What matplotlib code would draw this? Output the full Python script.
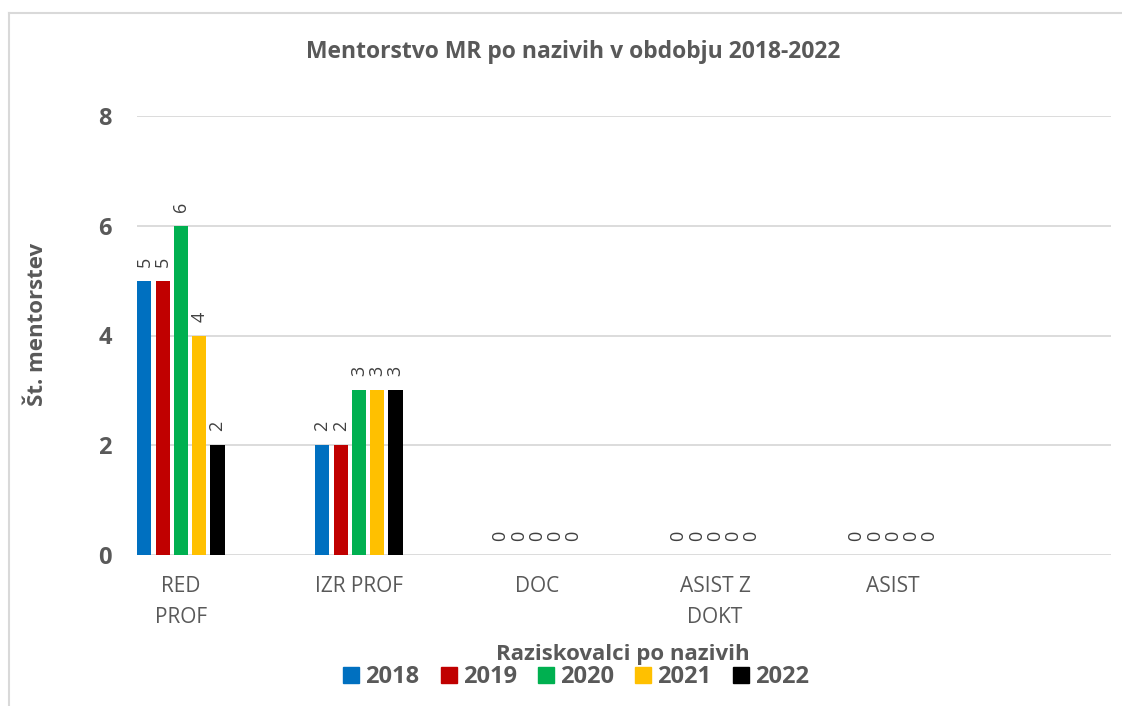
import matplotlib
matplotlib.use("Agg")
import matplotlib.pyplot as plt
import numpy as np
from matplotlib.patches import Rectangle
from matplotlib.lines import Line2D

categories = ["RED\nPROF", "IZR PROF", "DOC", "ASIST Z\nDOKT", "ASIST"]
years = ["2018", "2019", "2020", "2021", "2022"]
values = {
    "2018": [5, 2, 0, 0, 0],
    "2019": [5, 2, 0, 0, 0],
    "2020": [6, 3, 0, 0, 0],
    "2021": [4, 3, 0, 0, 0],
    "2022": [2, 3, 0, 0, 0],
}
colors = ["#0070C0", "#C00000", "#00B050", "#FFC000", "#000000"]
yticks = [0, 2, 4, 6, 8]

FONT = ["Open Sans", "DejaVu Sans"]
TXT = "#595959"
plt.rcParams['font.family'] = FONT

W, H = 1122, 706
fig = plt.figure(figsize=(W / 100, H / 100), dpi=100)
fig.patch.set_facecolor("white")

# chart frame (only left and top visible)
fig.add_artist(Line2D([9 / W, 9 / W], [0, 1 - 13 / H], color="#D9D9D9", lw=1.5, transform=fig.transFigure))
fig.add_artist(Line2D([9 / W, 1], [1 - 13 / H, 1 - 13 / H], color="#D9D9D9", lw=1.5, transform=fig.transFigure))

left, right, top, bottom = 137, 1111, 116, 555
ax = fig.add_axes([left / W, 1 - bottom / H, (right - left) / W, (bottom - top) / H])

x = np.arange(len(categories))
slot = 0.1028
bw = 0.080
for i, (yr, c) in enumerate(zip(years, colors)):
    xs = x + (i - 2) * slot
    ax.bar(xs, values[yr], width=bw, color=c, zorder=3)
    for xi, v in zip(xs, values[yr]):
        ax.annotate(str(v), (xi, v), xytext=(0, 10), textcoords="offset points",
                    rotation=90, ha="center", va="bottom", fontsize=13, color="#404040")

ax.set_xlim(-0.247, 5.225)
ax.set_ylim(0, 8)
ax.set_yticks(yticks)
ax.set_yticklabels([str(t) for t in yticks], fontsize=17, fontweight="bold", color=TXT)
ax.set_xticks(x)
ax.set_xticklabels(categories, fontsize=15, color=TXT, linespacing=1.62, va="top")
ax.tick_params(axis="both", length=0)
ax.tick_params(axis="y", pad=18)
ax.tick_params(axis="x", pad=15)
ax.grid(axis="y", color="#D9D9D9", lw=1.3, zorder=0)
for s in ax.spines.values():
    s.set_visible(False)

fig.text(573 / W, 1 - 49.5 / H, "Mentorstvo MR po nazivih v obdobju 2018-2022", ha="center", va="center_baseline",
         fontsize=16.5, fontweight="bold", color=TXT)
fig.text(38 / W, 1 - 324 / H, "Št. mentorstev", ha="center", va="center", rotation=90,
         fontsize=16, fontweight="bold", color=TXT)
fig.text(623 / W, 1 - 652 / H, "Raziskovalci po nazivih", ha="center", va="center_baseline",
         fontsize=16, fontweight="bold", color=TXT)

handles = [Rectangle((0, 0), 1, 1, color=c) for c in colors]
leg = fig.legend(handles, years, loc="center", bbox_to_anchor=(576 / W, 1 - 677 / H), ncol=5,
                 frameon=False, handlelength=0.68, handleheight=0.68, handletextpad=0.25,
                 columnspacing=0.9, borderpad=0, borderaxespad=0,
                 prop={"family": FONT, "weight": "bold", "size": 17})
for t in leg.get_texts():
    t.set_color(TXT)

fig.savefig("out.png", dpi=100)
